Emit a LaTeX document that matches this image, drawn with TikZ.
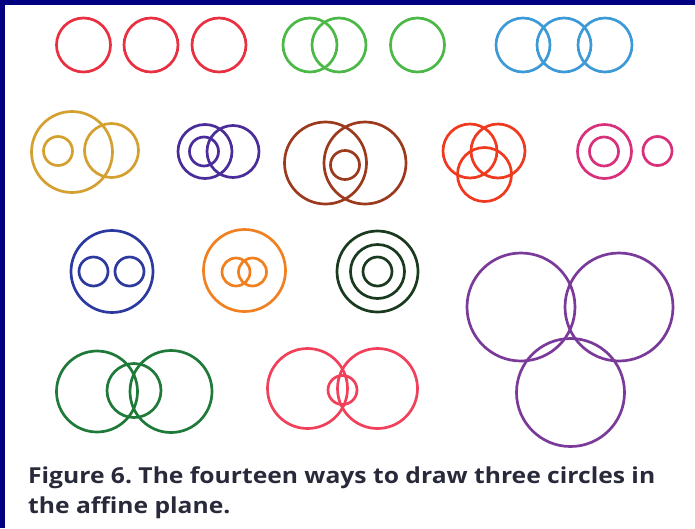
\documentclass[tikz,border=0pt]{standalone}
\usepackage{fontspec}
\setmainfont{Open Sans}
\newfontfamily\capfont[FakeStretch=1.12]{Open Sans}

\definecolor{frameblue}{RGB}{0,0,128}
\definecolor{capgray}{RGB}{40,42,58}
\definecolor{ringred}{RGB}{232,48,64}
\definecolor{ringgreen}{RGB}{76,184,72}
\definecolor{ringsky}{RGB}{61,154,214}
\definecolor{ringgold}{RGB}{212,160,48}
\definecolor{ringindigo}{RGB}{74,44,154}
\definecolor{ringbrown}{RGB}{156,58,30}
\definecolor{ringorange}{RGB}{240,58,32}
\definecolor{ringmagenta}{RGB}{216,48,122}
\definecolor{ringnavy}{RGB}{44,58,160}
\definecolor{ringamber}{RGB}{240,128,32}
\definecolor{ringforest}{RGB}{26,58,32}
\definecolor{ringpurple}{RGB}{122,58,154}
\definecolor{ringpine}{RGB}{31,122,58}
\definecolor{ringrose}{RGB}{240,64,90}

\newcommand{\lw}{2.7pt}   % stroke of every ring
\newcommand{\rsml}{14.5}  % small radius
\newcommand{\rmid}{27}    % middle radius
\newcommand{\rbig}{41}    % large radius

\tikzset{ring/.style={line width=\lw},
  captext/.style={anchor=base west,inner sep=0pt,text=capgray,
    font=\capfont\fontsize{22}{26}\selectfont\bfseries\frenchspacing}}

\begin{document}
\begin{tikzpicture}[x=1pt,y=-1pt]
  \useasboundingbox (0,0) rectangle (695,528);
  \fill[frameblue] (0,0) rectangle (695,5);
  \fill[frameblue] (0,0) rectangle (5,528);
  % first row
  \foreach \cx in {83.5,151,219}
    \draw[ring,ringred] (\cx,45) circle [radius=\rmid];
  \foreach \cx in {310,339,417.5}
    \draw[ring,ringgreen] (\cx,45) circle [radius=\rmid];
  \foreach \cx in {523,564,605}
    \draw[ring,ringsky] (\cx,45) circle [radius=\rmid];
  % second row
  \draw[ring,ringgold] (72,152) circle [radius=40.5];
  \draw[ring,ringgold] (58,151) circle [radius=\rsml];
  \draw[ring,ringgold] (111.5,150.5) circle [radius=\rmid];
  \draw[ring,ringindigo] (205,151.5) circle [radius=\rmid];
  \draw[ring,ringindigo] (233,151.5) circle [radius=26];
  \draw[ring,ringindigo] (204,151.5) circle [radius=\rsml];
  \draw[ring,ringbrown] (325.5,163) circle [radius=\rbig];
  \draw[ring,ringbrown] (365,163) circle [radius=\rbig];
  \draw[ring,ringbrown] (345,165) circle [radius=\rsml];
  \draw[ring,ringorange] (470,151) circle [radius=\rmid];
  \draw[ring,ringorange] (498,151) circle [radius=\rmid];
  \draw[ring,ringorange] (484.5,174.5) circle [radius=\rmid];
  \draw[ring,ringmagenta] (604.5,151.5) circle [radius=\rmid];
  \draw[ring,ringmagenta] (604,151.5) circle [radius=\rsml];
  \draw[ring,ringmagenta] (657.5,151) circle [radius=\rsml];
  % third row
  \draw[ring,ringnavy] (112,271.5) circle [radius=\rbig];
  \draw[ring,ringnavy] (93.5,271.5) circle [radius=\rsml];
  \draw[ring,ringnavy] (129.5,271.5) circle [radius=\rsml];
  \draw[ring,ringamber] (244.5,270.5) circle [radius=\rbig];
  \draw[ring,ringamber] (236,272) circle [radius=14];
  \draw[ring,ringamber] (252.5,272) circle [radius=14];
  \foreach \r in {\rsml,\rmid,40.5}
    \draw[ring,ringforest] (377.5,271.5) circle [radius=\r];
  \draw[ring,ringpurple] (521,307) circle [radius=54];
  \draw[ring,ringpurple] (619,307) circle [radius=54];
  \draw[ring,ringpurple] (570.5,392.5) circle [radius=54];
  % fourth row
  \draw[ring,ringpine] (97,391.5) circle [radius=40.5];
  \draw[ring,ringpine] (171,391.5) circle [radius=\rbig];
  \draw[ring,ringpine] (134,390.5) circle [radius=\rmid];
  \draw[ring,ringrose] (307.5,388.5) circle [radius=40];
  \draw[ring,ringrose] (377.5,388.5) circle [radius=40];
  \draw[ring,ringrose] (342.5,390) circle [radius=\rsml];
  % caption
  \node[captext] (capone) at (28,483) {Figure 6. The fourteen ways to draw three circles in};
  \node[captext] (captwo) at (28,513) {the affine plane.};
\end{tikzpicture}
\end{document}
